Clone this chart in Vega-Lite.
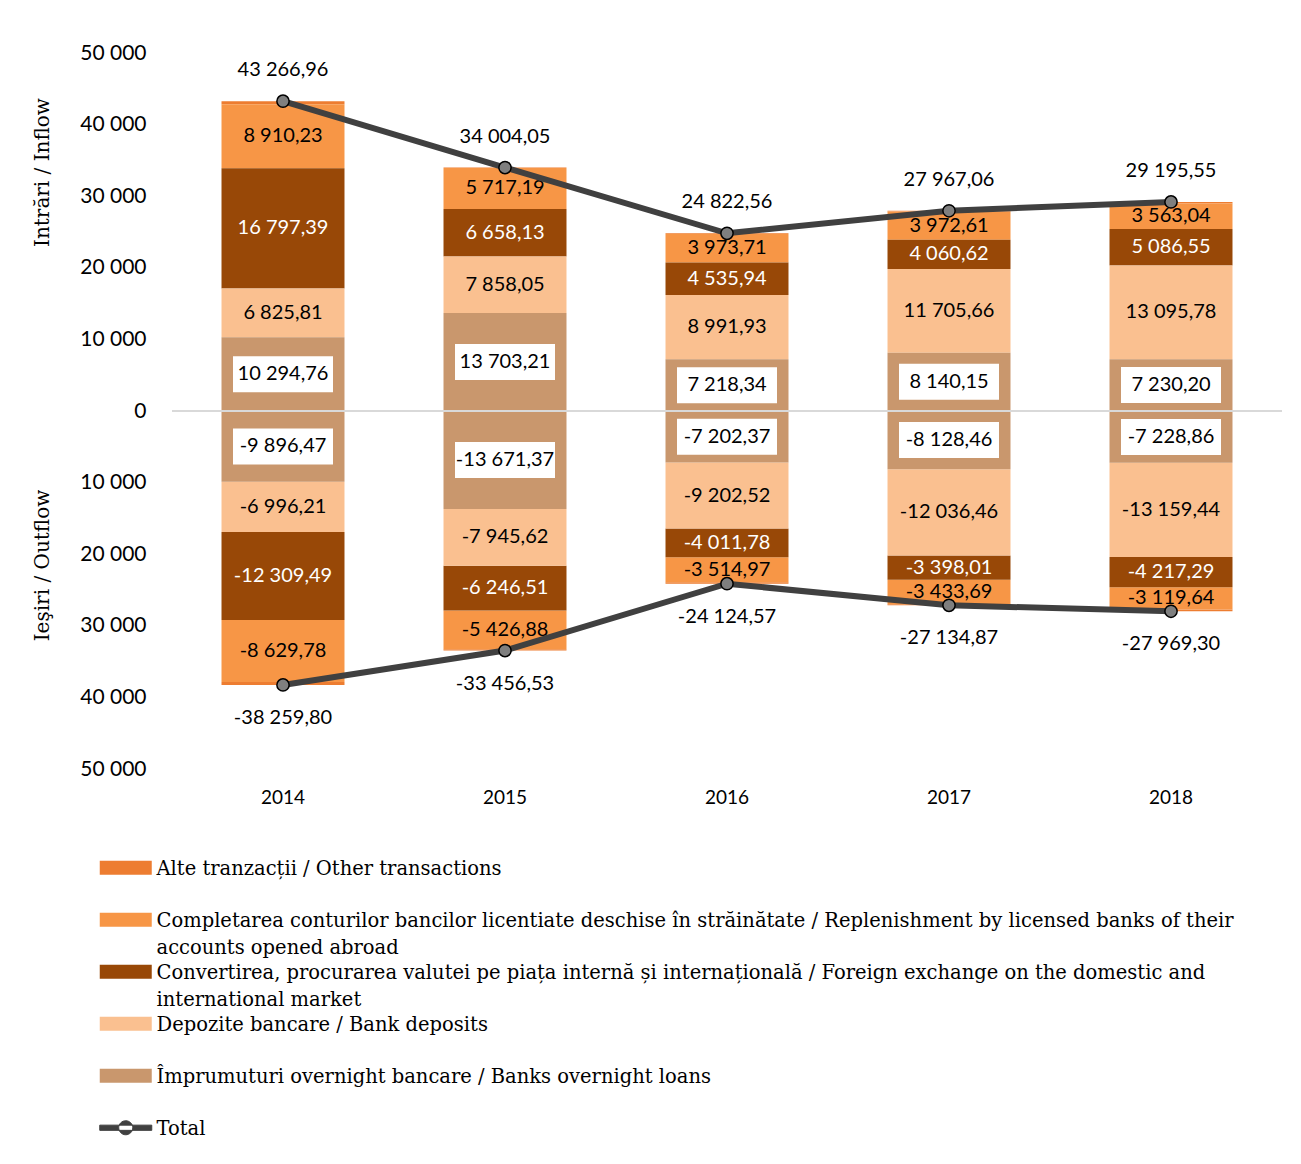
{
  "$schema": "https://vega.github.io/schema/vega-lite/v6.json",
  "width": 1110,
  "height": 716,
  "autosize": {"type": "none"},
  "padding": {"left": 172, "top": 53, "right": 19, "bottom": 395},
  "background": "white",
  "data": {
    "values": [
      {"year": "2014", "s": "alte", "v": 438.77}, {"year": "2014", "s": "alte", "v": -427.85},
      {"year": "2014", "s": "compl", "v": 8910.23}, {"year": "2014", "s": "compl", "v": -8629.78},
      {"year": "2014", "s": "conv", "v": 16797.39}, {"year": "2014", "s": "conv", "v": -12309.49},
      {"year": "2014", "s": "depo", "v": 6825.81}, {"year": "2014", "s": "depo", "v": -6996.21},
      {"year": "2014", "s": "over", "v": 10294.76}, {"year": "2014", "s": "over", "v": -9896.47},
      {"year": "2014", "s": "Total", "v": 43266.96}, {"year": "2014", "s": "Total", "v": -38259.80},
      {"year": "2015", "s": "alte", "v": 67.47}, {"year": "2015", "s": "alte", "v": -166.15},
      {"year": "2015", "s": "compl", "v": 5717.19}, {"year": "2015", "s": "compl", "v": -5426.88},
      {"year": "2015", "s": "conv", "v": 6658.13}, {"year": "2015", "s": "conv", "v": -6246.51},
      {"year": "2015", "s": "depo", "v": 7858.05}, {"year": "2015", "s": "depo", "v": -7945.62},
      {"year": "2015", "s": "over", "v": 13703.21}, {"year": "2015", "s": "over", "v": -13671.37},
      {"year": "2015", "s": "Total", "v": 34004.05}, {"year": "2015", "s": "Total", "v": -33456.53},
      {"year": "2016", "s": "alte", "v": 102.64}, {"year": "2016", "s": "alte", "v": -192.93},
      {"year": "2016", "s": "compl", "v": 3973.71}, {"year": "2016", "s": "compl", "v": -3514.97},
      {"year": "2016", "s": "conv", "v": 4535.94}, {"year": "2016", "s": "conv", "v": -4011.78},
      {"year": "2016", "s": "depo", "v": 8991.93}, {"year": "2016", "s": "depo", "v": -9202.52},
      {"year": "2016", "s": "over", "v": 7218.34}, {"year": "2016", "s": "over", "v": -7202.37},
      {"year": "2016", "s": "Total", "v": 24822.56}, {"year": "2016", "s": "Total", "v": -24124.57},
      {"year": "2017", "s": "alte", "v": 88.02}, {"year": "2017", "s": "alte", "v": -138.25},
      {"year": "2017", "s": "compl", "v": 3972.61}, {"year": "2017", "s": "compl", "v": -3433.69},
      {"year": "2017", "s": "conv", "v": 4060.62}, {"year": "2017", "s": "conv", "v": -3398.01},
      {"year": "2017", "s": "depo", "v": 11705.66}, {"year": "2017", "s": "depo", "v": -12036.46},
      {"year": "2017", "s": "over", "v": 8140.15}, {"year": "2017", "s": "over", "v": -8128.46},
      {"year": "2017", "s": "Total", "v": 27967.06}, {"year": "2017", "s": "Total", "v": -27134.87},
      {"year": "2018", "s": "alte", "v": 219.98}, {"year": "2018", "s": "alte", "v": -244.07},
      {"year": "2018", "s": "compl", "v": 3563.04}, {"year": "2018", "s": "compl", "v": -3119.64},
      {"year": "2018", "s": "conv", "v": 5086.55}, {"year": "2018", "s": "conv", "v": -4217.29},
      {"year": "2018", "s": "depo", "v": 13095.78}, {"year": "2018", "s": "depo", "v": -13159.44},
      {"year": "2018", "s": "over", "v": 7230.20}, {"year": "2018", "s": "over", "v": -7228.86},
      {"year": "2018", "s": "Total", "v": 29195.55}, {"year": "2018", "s": "Total", "v": -27969.30}
    ]
  },
  "layer": [
    {
      "transform": [
        {"filter": "datum.s !== 'Total'"},
        {"calculate": "indexof(['over','depo','conv','compl','alte'], datum.s)", "as": "k"},
        {"stack": "v", "groupby": ["year"], "sort": [{"field": "k", "order": "ascending"}], "as": ["v0", "v1"]}
      ],
      "mark": {"type": "bar"},
      "encoding": {
        "x": {
          "field": "year", "type": "nominal",
          "scale": {"paddingInner": 0.446, "paddingOuter": 0.223},
          "axis": {"title": null, "labelAngle": 0, "domain": false, "ticks": false, "labelFontSize": 19, "labelPadding": 19, "labelColor": "#000000", "labelFont": "Lato"}
        },
        "y": {
          "field": "v0", "type": "quantitative",
          "scale": {"domain": [-50000, 50000], "nice": false, "zero": false},
          "axis": {
            "orient": "left",
            "values": [-50000, -40000, -30000, -20000, -10000, 0, 10000, 20000, 30000, 40000, 50000],
            "labelExpr": "format(abs(datum.value), ',')",
            "grid": false, "domain": false, "ticks": false,
            "labelPadding": 26, "labelFontSize": 21, "labelFont": "Lato", "labelColor": "#000000",
            "title": "Intrări / Inflow", "titleFont": "DejaVu Serif", "titleFontSize": 20, "titleFontWeight": "normal", "titleColor": "#000000",
            "titleX": -130, "titleY": 119, "titleAngle": -90, "titleAlign": "center", "titleBaseline": "middle"
          }
        },
        "y2": {"field": "v1"},
        "color": {
          "field": "s", "type": "nominal",
          "scale": {
            "domain": ["alte", "compl", "conv", "depo", "over", "Total"],
            "range": ["#ED7D31", "#F79646", "#984807", "#FAC090", "#C9976D", "#404040"]
          },
          "legend": {
            "orient": "none", "legendX": -56, "legendY": 805, "direction": "vertical", "title": null,
            "labelFont": "DejaVu Serif", "labelFontSize": 19.5, "labelColor": "#000000", "labelLimit": 1200,
            "labelOffset": 21, "symbolSize": 2704, "symbolType": "M-1,-0.27L1,-0.27L1,0.27L-1,0.27Z",
            "symbolStrokeWidth": 0, "labelBaseline": "top", "gridAlign": "all", "rowPadding": 4,
            "labelExpr": "datum.label === 'alte' ? 'Alte tranzacții / Other transactions' : datum.label === 'compl' ? ['Completarea conturilor bancilor licentiate deschise în străinătate / Replenishment by licensed banks of their', 'accounts opened abroad'] : datum.label === 'conv' ? ['Convertirea, procurarea valutei pe piața internă și internațională / Foreign exchange on the domestic and', 'international market'] : datum.label === 'depo' ? 'Depozite bancare / Bank deposits' : datum.label === 'over' ? 'Împrumuturi overnight bancare / Banks overnight loans' : 'Total'",
            "encode": {
              "labels": {
                "update": {
                  "dy": {"value": -8},
                  "lineHeight": {"value": 27}
                }
              },
              "symbols": {
                "update": {
                  "shape": {"signal": "datum.value === 'Total' ? 'M-1,-0.1L1,-0.1L1,0.1L-1,0.1Z M-0.27,0A0.27,0.27 0 1,0 0.27,0A0.27,0.27 0 1,0 -0.27,0Z' : 'M-1,-0.27L1,-0.27L1,0.27L-1,0.27Z'"},
                  "strokeWidth": {"signal": "datum.value === 'Total' ? 1 : 0"},
                  "stroke": {"value": "#262626"}
                }
              }
            }
          }
        }
      }
    },
    {
      "mark": {"type": "rule", "color": "#d9d9d9", "strokeWidth": 2},
      "encoding": {"y": {"datum": 0, "axis": null}}
    },
    {
      "transform": [
        {"filter": "datum.s !== 'Total'"},
        {"calculate": "indexof(['over','depo','conv','compl','alte'], datum.s)", "as": "k"},
        {"stack": "v", "groupby": ["year"], "sort": [{"field": "k", "order": "ascending"}], "as": ["v0", "v1"]},
        {"calculate": "(datum.v0 + datum.v1) / 2", "as": "mid"},
        {"filter": "datum.s === 'over'"}
      ],
      "mark": {"type": "tick", "color": "white", "size": 100, "thickness": 36, "opacity": 1},
      "encoding": {
        "x": {"field": "year", "type": "nominal"},
        "y": {"field": "mid", "type": "quantitative", "axis": null}
      }
    },
    {
      "transform": [
        {"filter": "datum.s !== 'Total'"},
        {"calculate": "indexof(['over','depo','conv','compl','alte'], datum.s)", "as": "k"},
        {"stack": "v", "groupby": ["year"], "sort": [{"field": "k", "order": "ascending"}], "as": ["v0", "v1"]},
        {"calculate": "(datum.v0 + datum.v1) / 2", "as": "mid"},
        {"filter": "datum.s !== 'alte'"}
      ],
      "mark": {"type": "text", "fontSize": 20, "font": "Lato", "baseline": "middle", "align": "center"},
      "encoding": {
        "x": {"field": "year", "type": "nominal"},
        "y": {"field": "mid", "type": "quantitative", "axis": null},
        "text": {"field": "v", "type": "quantitative", "format": ",.2f"},
        "color": {"condition": {"test": "datum.s === 'conv'", "value": "#ffffff"}, "value": "#000000"}
      }
    },
    {
      "transform": [
        {"filter": "datum.s === 'Total'"},
        {"calculate": "datum.v > 0 ? 'in' : 'out'", "as": "flow"}
      ],
      "mark": {"type": "line", "strokeWidth": 6},
      "encoding": {
        "x": {"field": "year", "type": "nominal"},
        "y": {
          "field": "v", "type": "quantitative",
          "axis": {
            "orient": "left", "labels": false, "ticks": false, "domain": false, "grid": false,
            "title": "Ieşiri / Outflow", "titleFont": "DejaVu Serif", "titleFontSize": 20, "titleFontWeight": "normal", "titleColor": "#000000",
            "titleX": -130, "titleY": 512, "titleAngle": -90, "titleAlign": "center", "titleBaseline": "middle"
          }
        },
        "color": {"field": "s", "type": "nominal"},
        "detail": {"field": "flow"}
      }
    },
    {
      "transform": [{"filter": "datum.s === 'Total'"}],
      "mark": {"type": "point", "filled": true, "fill": "#7f7f7f", "stroke": "#000000", "strokeWidth": 1.5, "size": 150, "opacity": 1},
      "encoding": {
        "x": {"field": "year", "type": "nominal"},
        "y": {"field": "v", "type": "quantitative", "axis": null}
      }
    },
    {
      "transform": [{"filter": "datum.s === 'Total' && datum.v > 0"}],
      "mark": {"type": "text", "fontSize": 20, "font": "Lato", "baseline": "middle", "align": "center", "dy": -31, "color": "#000000"},
      "encoding": {
        "x": {"field": "year", "type": "nominal"},
        "y": {"field": "v", "type": "quantitative", "axis": null},
        "text": {"field": "v", "type": "quantitative", "format": ",.2f"}
      }
    },
    {
      "transform": [{"filter": "datum.s === 'Total' && datum.v < 0"}],
      "mark": {"type": "text", "fontSize": 20, "font": "Lato", "baseline": "middle", "align": "center", "dy": 33, "color": "#000000"},
      "encoding": {
        "x": {"field": "year", "type": "nominal"},
        "y": {"field": "v", "type": "quantitative", "axis": null},
        "text": {"field": "v", "type": "quantitative", "format": ",.2f"}
      }
    }
  ],
  "resolve": {"axis": {"y": "independent"}},
  "config": {
    "view": {"stroke": null},
    "font": "Lato",
    "locale": {
      "number": {"decimal": ",", "thousands": " ", "grouping": [3], "currency": ["", ""], "minus": "-"}
    }
  }
}
